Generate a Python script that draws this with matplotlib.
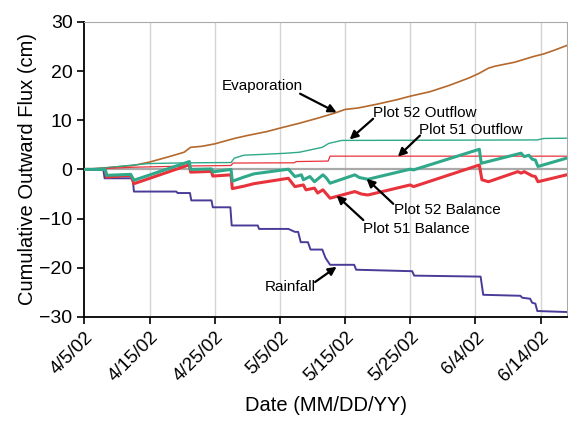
"""
Cumulative outward flux for plots 51 and 52 (spring 2002).
"""
import pandas as pd
import matplotlib
matplotlib.use('Agg')
import matplotlib.pyplot as plt
import matplotlib.dates as mdates
from matplotlib.ticker import FuncFormatter

plt.rcParams['font.family'] = ['Liberation Sans', 'DejaVu Sans']

START = pd.Timestamp('2002-04-05')

# days since 4/5/02 and cumulative flux (cm)
evap_days = [0, 3, 7.5, 10, 13, 15.3, 16.3, 18, 20, 23, 25, 28, 30, 33, 36, 38.5,
             40, 42, 45, 48, 50, 53, 56, 59, 60.5, 62, 63, 66, 69, 70.5, 72, 74]
evap_vals = [0, 0.3, 0.8, 1.5, 2.6, 3.5, 4.5, 4.7, 5.2, 6.3, 6.9, 7.7, 8.4, 9.4, 10.5, 11.5,
             12.2, 12.5, 13.3, 14.2, 14.9, 15.8, 17.1, 18.6, 19.5, 20.6, 21.0, 21.8, 23.0, 23.5, 24.2, 25.2]

out52_days = [0, 3, 7.5, 10, 16, 22.5, 23, 24.5, 28, 31, 33, 36.5, 37.5, 39.5, 69.5, 70.5, 74]
out52_vals = [0, 0.3, 0.9, 1.2, 1.35, 1.4, 2.3, 2.9, 3.1, 3.3, 3.5, 4.5, 5.3, 5.9, 6.0, 6.3, 6.35]

out51_days = [0, 7.5, 16, 22.5, 22.8, 32.2, 32.5, 37.4, 37.7, 74]
out51_vals = [0, 0.45, 0.7, 0.8, 1.3, 1.35, 1.6, 1.7, 2.7, 2.7]

bal52_days = [0, 3.2, 3.4, 7.1, 7.6, 16.1, 16.3, 19.5, 19.7, 22.5, 22.7, 24.5, 26, 31.3, 32.3,
              33.3, 33.6, 34.6, 35.3, 36.6, 37.1, 37.7, 41.5, 42.2, 43.5, 50, 50.5, 60.6, 60.9,
              67, 67.5, 68.2, 68.7, 69.2, 69.6, 74]
bal52_vals = [0, 0, -1.2, -1.0, -2.2, 1.6, 0.0, 0.1, -0.5, 0.0, -2.4, -1.55, -0.9, 0.05, -1.45,
              -1.1, -2.1, -1.45, -2.5, -1.1, -1.7, -2.8, -1.1, -1.65, -2.0, 0.05, -0.1, 4.1, 1.25,
              3.3, 2.6, 2.9, 2.1, 1.9, 0.6, 2.3]

bal51_days = [0, 3.2, 3.4, 7.1, 7.6, 16.1, 16.3, 19.5, 19.7, 22.5, 22.7, 24.5, 26, 31.3, 32.3,
              33.6, 34, 35.3, 35.8, 36.6, 37.7, 41.5, 42.5, 43.5, 50, 50.5, 60.6, 61, 62,
              66.5, 67, 67.5, 68.7, 69.2, 69.6, 74]
bal51_vals = [0, 0, -1.55, -1.2, -2.9, 0.95, -0.55, -0.4, -1.35, -1.1, -3.9, -3.4, -2.9, -1.8, -3.5,
              -3.15, -4.15, -3.8, -4.8, -4.15, -5.85, -4.5, -5.0, -5.2, -3.15, -3.5, 0.9, -2.1, -2.5,
              -0.45, -0.75, -0.45, -1.3, -1.45, -2.5, -1.1]

rain_days = [0, 2.9, 3.1, 7.4, 7.6, 14.1, 14.3, 16.2, 16.4, 19.5, 19.7, 22.4, 22.6, 26.6, 26.8,
             31.3, 32.3, 32.8, 33.2, 34.3, 34.7, 36.5, 37.0, 37.7, 41.4, 41.7, 50.3, 50.6,
             60.8, 61.2, 66.9, 67.2, 68.4, 68.7, 69.2, 69.5, 74]
rain_vals = [0, 0, -1.8, -1.8, -4.5, -4.5, -4.8, -4.8, -6.3, -6.3, -7.7, -7.7, -11.4, -11.4, -12.1,
             -12.1, -12.7, -12.7, -14.8, -14.8, -16.3, -16.3, -18.0, -19.4, -19.4, -20.4, -20.7, -21.6,
             -21.8, -25.5, -25.7, -26.1, -26.3, -27.1, -27.3, -28.8, -29.0]

tick_days = [0, 10, 20, 30, 40, 50, 60, 70]
y_ticks = [-30, -20, -10, 0, 10, 20, 30]


def to_dates(days):
    return START + pd.to_timedelta(days, unit='D')


fig = plt.figure(figsize=(5.68, 4.22), dpi=100)
ax = fig.add_axes([0.1486, 0.249, 0.849, 0.699])

# grid: vertical lines at each date tick plus the zero line
for d in tick_days[1:]:
    ax.axvline(to_dates([d])[0], color='#d4d4d4', linewidth=1.0, zorder=0)
ax.axhline(0, color='#a9a9a9', linewidth=1.6, zorder=1)

ax.plot(to_dates(evap_days), evap_vals, color='#B5682B', linewidth=1.2, zorder=3)
ax.plot(to_dates(out52_days), out52_vals, color='#2FA98A', linewidth=1.0, zorder=3)
ax.plot(to_dates(out51_days), out51_vals, color='#E8333C', linewidth=0.9, zorder=3)
ax.plot(to_dates(rain_days), rain_vals, color='#4B3A98', linewidth=1.4, zorder=3)
ax.plot(to_dates(bal51_days), bal51_vals, color='#E8333C', linewidth=2.2, zorder=4)
ax.plot(to_dates(bal52_days), bal52_vals, color='#2FA98A', linewidth=2.2, zorder=5)

# annotations: (label, text position, arrow tail, arrow head) in (day, cm)
notes = [
    ('Evaporation', (21.1, 17.0), (33.1, 15.4), (38.7, 11.6)),
    ('Plot 52 Outflow', (44.3, 11.4), (44.3, 10.3), (40.7, 6.1)),
    ('Plot 51 Outflow', (51.4, 8.1), (51.5, 6.9), (48.1, 2.6)),
    ('Plot 52 Balance', (47.5, -8.3), (47.4, -7.0), (43.3, -1.9)),
    ('Plot 51 Balance', (42.8, -12.2), (42.8, -10.3), (38.7, -5.3)),
    ('Rainfall', (27.6, -23.9), (35.4, -22.9), (38.7, -19.8)),
]
for label, txt, tail, head in notes:
    ax.text(to_dates([txt[0]])[0], txt[1], label, fontsize=11, ha='left', va='center', zorder=6)
    ax.annotate('', xy=(to_dates([head[0]])[0], head[1]),
                xytext=(to_dates([tail[0]])[0], tail[1]),
                arrowprops=dict(arrowstyle='-|>', color='black', lw=1.6,
                                mutation_scale=12, shrinkA=0, shrinkB=0),
                zorder=6)

ax.set_xlim(START, to_dates([74])[0])
ax.set_ylim(-30, 30)
ax.set_yticks(y_ticks)
ax.set_xticks(to_dates(tick_days))
ax.xaxis.set_major_formatter(FuncFormatter(
    lambda v, pos: (lambda d: f'{d.month}/{d.day}/{d:%y}')(mdates.num2date(v))))
ax.tick_params(axis='both', direction='out', length=5, width=1.2, labelsize=13.5)
ax.tick_params(axis='y', labelsize=14)
plt.setp(ax.get_xticklabels(), rotation=45, ha='right', va='top', rotation_mode='anchor')

ax.spines['left'].set_linewidth(1.3)
ax.spines['bottom'].set_linewidth(1.3)
ax.spines['top'].set_color('#a9a9a9')
ax.spines['right'].set_color('#a9a9a9')

ax.set_ylabel('Cumulative Outward Flux (cm)', fontsize=14.5, labelpad=2)
ax.set_xlabel('Date (MM/DD/YY)', fontsize=14.5, labelpad=8)

plt.savefig('out.png', dpi=100)
plt.close()
